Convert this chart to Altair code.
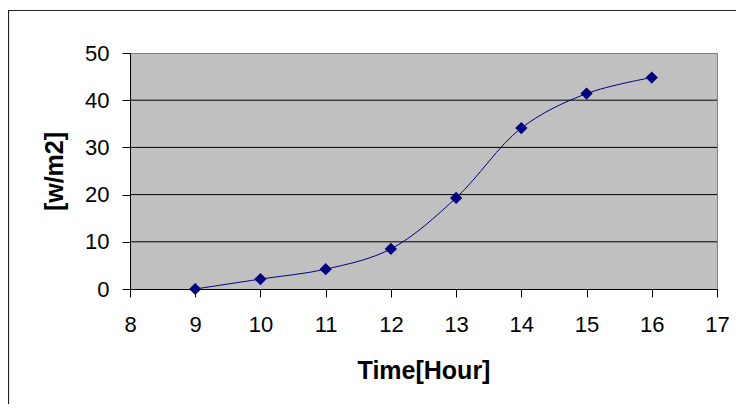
import altair as alt
import pandas as pd

hours = [9, 10, 11, 12, 13, 14, 15, 16]
irradiance = [0.0, 2.1, 4.2, 8.5, 19.3, 34.1, 41.4, 44.8]
x_ticks = [8, 9, 10, 11, 12, 13, 14, 15, 16, 17]
y_ticks = [0, 10, 20, 30, 40, 50]
grid_values = [10, 20, 30, 40]

df = pd.DataFrame({"hour": hours, "value": irradiance})
grid_df = pd.DataFrame({"g": grid_values})
frame_df = pd.DataFrame({"k": [0]})

FONT = "Liberation Sans"
NAVY = "#000080"

xscale = alt.Scale(domain=[8, 17], nice=False, zero=False)
yscale = alt.Scale(domain=[0, 50], nice=False)

x_enc = alt.X(
    "hour:Q", scale=xscale,
    axis=alt.Axis(values=x_ticks, title="Time[Hour]", grid=False, tickSize=8,
                  labelPadding=17, titlePadding=23, labelFontSize=22,
                  titleFontSize=25, labelFlush=False, labelOverlap=False),
)
y_enc = alt.Y(
    "value:Q", scale=yscale,
    axis=alt.Axis(values=y_ticks, title="[w/m2]", grid=False, tickSize=8,
                  labelPadding=13, titlePadding=17, labelFontSize=22,
                  titleFontSize=25),
)

grid = alt.Chart(grid_df).mark_rule(color="#000000", strokeWidth=1).encode(
    y=alt.Y("g:Q", scale=yscale),
    x=alt.value(0),
    x2=alt.value(587),
)

line = alt.Chart(df).mark_line(color=NAVY, strokeWidth=1, interpolate="catmull-rom").encode(
    x=x_enc, y=y_enc
)
points = alt.Chart(df).mark_point(shape="diamond", filled=True, color=NAVY, size=150, opacity=1).encode(
    x=x_enc, y=y_enc
)

frame = alt.Chart(frame_df).mark_rect(filled=False, stroke="#222222", strokeWidth=1.2, clip=False).encode(
    x=alt.value(-121.5), x2=alt.value(620), y=alt.value(-42.5), y2=alt.value(420)
)

chart = alt.layer(grid, line, points, frame).properties(
    width=587, height=236,
    autosize=alt.AutoSizeParams(type="none"),
    padding={"left": 122, "top": 45, "right": 19, "bottom": 115},
    background="#FFFFFF",
).configure_view(
    fill="#C0C0C0", stroke="#808080", strokeWidth=1
).configure_axis(
    domainColor="#000000", tickColor="#000000", labelColor="#000000",
    titleColor="#000000", labelFont=FONT, titleFont=FONT, titleFontWeight="bold",
    labelFontWeight="normal", domainWidth=1, tickWidth=1
)

chart.save("out.html", embed_options={"renderer": "svg", "actions": False})
